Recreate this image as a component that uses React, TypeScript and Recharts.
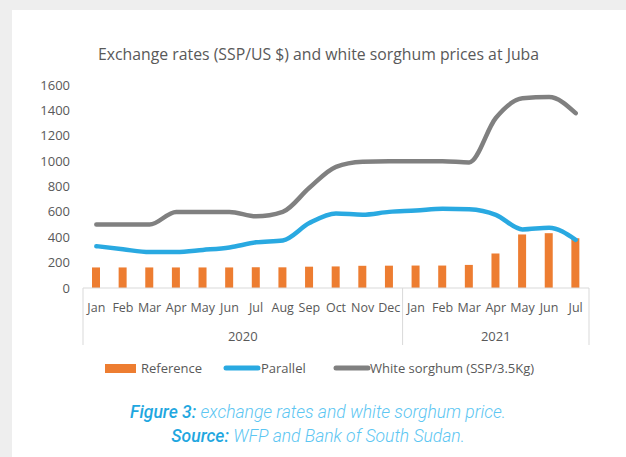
import { Bar, ComposedChart, Line, XAxis, YAxis } from "recharts";

// Monthly data, Jan 2020 – Jul 2021
const months = ["Jan", "Feb", "Mar", "Apr", "May", "Jun", "Jul", "Aug", "Sep", "Oct", "Nov", "Dec", "Jan", "Feb", "Mar", "Apr", "May", "Jun", "Jul"];
const years = ["2020", "2020", "2020", "2020", "2020", "2020", "2020", "2020", "2020", "2020", "2020", "2020", "2021", "2021", "2021", "2021", "2021", "2021", "2021"];
const reference = [162, 162, 162, 162, 162, 162, 163, 163, 168, 170, 175, 176, 177, 177, 182, 272, 422, 432, 392];
const parallel = [330, 305, 283, 283, 300, 320, 360, 375, 512, 588, 578, 600, 610, 625, 620, 577, 462, 475, 380];
const sorghum = [500, 500, 500, 600, 600, 600, 565, 600, 790, 955, 995, 1000, 1000, 1000, 990, 1340, 1495, 1505, 1378];
const yTicks = [0, 200, 400, 600, 800, 1000, 1200, 1400, 1600];

const COLORS = { reference: "#ed7d31", parallel: "#29a9e1", sorghum: "#808080" };
const FONT = "'Open Sans', sans-serif";
const TEXT = "#595959";
const AXIS = "#d9d9d9";

const PLOT_LEFT = 83;
const PLOT_RIGHT = 589;
const BAND = (PLOT_RIGHT - PLOT_LEFT) / months.length;

const data = months.map((m, i) => ({
  month: m,
  year: years[i],
  reference: reference[i],
  parallel: parallel[i],
  sorghum: sorghum[i],
}));

function MonthTick({ x, y, index }: any) {
  const yr = years[index];
  const first = index === 0 || years[index - 1] !== yr;
  const count = years.filter((v) => v === yr).length;
  const last = index === months.length - 1;
  return (
    <g>
      <text x={x} y={y + 24} textAnchor="middle" fontFamily={FONT} fontSize={12.5} fill={TEXT}>
        {months[index]}
      </text>
      {first && (
        <>
          <line x1={x - BAND / 2} x2={x - BAND / 2} y1={y} y2={y + 57} stroke={AXIS} />
          <text x={x + ((count - 1) / 2) * BAND} y={y + 53} textAnchor="middle" fontFamily={FONT} fontSize={13} fill={TEXT}>
            {yr}
          </text>
        </>
      )}
      {last && <line x1={x + BAND / 2} x2={x + BAND / 2} y1={y} y2={y + 57} stroke={AXIS} />}
    </g>
  );
}

function LegendRow() {
  return (
    <svg width={626} height={20} style={{ position: "absolute", left: 0, top: 358 }}>
      <rect x={105} y={6} width={31} height={9} fill={COLORS.reference} />
      <text x={141} y={14.5} fontFamily={FONT} fontSize={13} fill={TEXT}>Reference</text>
      <line x1={226} x2={258} y1={10} y2={10} stroke={COLORS.parallel} strokeWidth={5} strokeLinecap="round" />
      <text x={261} y={14.5} fontFamily={FONT} fontSize={13} fill={TEXT}>Parallel</text>
      <line x1={336} x2={368} y1={10} y2={10} stroke={COLORS.sorghum} strokeWidth={5} strokeLinecap="round" />
      <text x={370} y={14.5} fontFamily={FONT} fontSize={13} fill={TEXT}>White sorghum (SSP/3.5Kg)</text>
    </svg>
  );
}

export default function App() {
  return (
    <div style={{ position: "absolute", left: 0, top: 0, width: 626, height: 457, background: "#eeeeee", overflow: "hidden" }}>
      <div style={{ position: "absolute", left: 12, top: 10, right: 0, bottom: 0, background: "#ffffff" }} />
      <div
        style={{
          position: "absolute",
          left: 0,
          width: 637,
          top: 43,
          textAlign: "center",
          fontFamily: FONT,
          fontSize: 15.8,
          color: TEXT,
          whiteSpace: "nowrap",
        }}
      >
        Exchange rates (SSP/US $) and white sorghum prices at Juba
      </div>
      <ComposedChart
        width={626}
        height={457}
        data={data}
        margin={{ top: 85, right: 626 - PLOT_RIGHT, bottom: 109, left: 23 }}
        style={{ position: "absolute", left: 0, top: 0 }}
      >
        <XAxis
          dataKey="month"
          interval={0}
          height={60}
          tickLine={false}
          tickSize={0}
          tickMargin={0}
          axisLine={{ stroke: AXIS }}
          tick={<MonthTick />}
        />
        <YAxis
          width={60}
          domain={[0, 1600]}
          ticks={yTicks}
          axisLine={false}
          tickLine={false}
          tickSize={0}
          tickMargin={13}
          tick={{ fontFamily: FONT, fontSize: 13, fill: TEXT }}
        />
        <Bar dataKey="reference" name="Reference" fill={COLORS.reference} barSize={8} isAnimationActive={false} />
        <Line type="monotone" dataKey="parallel" name="Parallel" stroke={COLORS.parallel} strokeWidth={4.5} strokeLinecap="round" dot={false} isAnimationActive={false} />
        <Line type="monotone" dataKey="sorghum" name="White sorghum (SSP/3.5Kg)" stroke={COLORS.sorghum} strokeWidth={4.5} strokeLinecap="round" dot={false} isAnimationActive={false} />
      </ComposedChart>
      <LegendRow />
      <div
        style={{
          position: "absolute",
          left: 0,
          width: 636,
          top: 400,
          textAlign: "center",
          fontFamily: "Roboto, sans-serif",
          fontStyle: "italic",
          fontSize: 17.5,
          lineHeight: "24px",
          color: "#5cc6f2",
          fontWeight: 300,
          whiteSpace: "nowrap",
        }}
      >
        <div>
          <span style={{ fontWeight: 500, color: "#1fa7e0" }}>Figure 3:</span> exchange rates and white sorghum price.
        </div>
        <div>
          <span style={{ fontWeight: 500, color: "#1fa7e0" }}>Source:</span> WFP and Bank of South Sudan.
        </div>
      </div>
    </div>
  );
}
